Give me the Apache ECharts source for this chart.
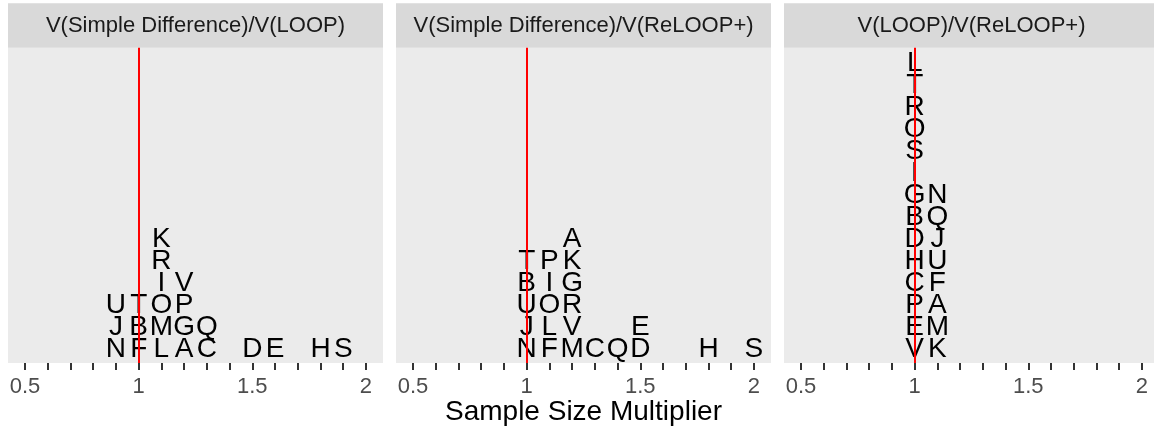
<!DOCTYPE html>
<html>
<head>
<meta charset="utf-8">
<script src="https://cdn.jsdelivr.net/npm/echarts@6/dist/echarts.min.js"></script>
<style>
  html, body { margin: 0; padding: 0; background: #fff; }
  #chart { width: 1154px; height: 432px; }
</style>
</head>
<body>
<div id="chart"></div>
<script>
// facet titles
const panelTitles = [
  "V(Simple Difference)/V(LOOP)",
  "V(Simple Difference)/V(ReLOOP+)",
  "V(LOOP)/V(ReLOOP+)",
];

// panel 1: V(Simple Difference)/V(LOOP)
const letters1 = ["N","F","L","A","C","D","E","H","S", "J","B","M","G","Q", "U","T","O","P", "I","V", "R", "K"];
const mult1 =    [0.9,1.0,1.1,1.2,1.3,1.5,1.6,1.8,1.9, 0.9,1.0,1.1,1.2,1.3, 0.9,1.0,1.1,1.2, 1.1,1.2, 1.1, 1.1];
const level1 =   [1,1,1,1,1,1,1,1,1, 2,2,2,2,2, 3,3,3,3, 4,4, 5, 6];

// panel 2: V(Simple Difference)/V(ReLOOP+)
const letters2 = ["N","F","M","C","Q","D","H","S", "J","L","V","E", "U","O","R", "B","I","G", "T","P","K", "A"];
const mult2 =    [1.0,1.1,1.2,1.3,1.4,1.5,1.8,2.0, 1.0,1.1,1.2,1.5, 1.0,1.1,1.2, 1.0,1.1,1.2, 1.0,1.1,1.2, 1.2];
const level2 =   [1,1,1,1,1,1,1,1, 2,2,2,2, 3,3,3, 4,4,4, 5,5,5, 6];

// panel 3: V(LOOP)/V(ReLOOP+)
const letters3 = ["V","E","P","C","H","D","B","G","I","S","O","R","T","L", "K","M","A","F","U","J","Q","N"];
const mult3 =    [1.0,1.0,1.0,1.0,1.0,1.0,1.0,1.0,1.0,1.0,1.0,1.0,1.0,1.0, 1.1,1.1,1.1,1.1,1.1,1.1,1.1,1.1];
const level3 =   [1,2,3,4,5,6,7,8,9,10,11,12,13,14, 1,2,3,4,5,6,7,8];

const xTicks = [0.5,0.6,0.7,0.8,0.9,1.0,1.1,1.2,1.3,1.4,1.5,1.6,1.7,1.8,1.9,2.0];
const xLabels = [0.5, 1, 1.5, 2];
const refLine = 1;

const FONT = "'Liberation Sans', Arial, Helvetica, sans-serif";
const panels = [
  { letters: letters1, mult: mult1, level: level1 },
  { letters: letters2, mult: mult2, level: level2 },
  { letters: letters3, mult: mult3, level: level3 },
];
const panelLeft = [8, 396, 784];
const panelWidth = 375;
const stripTop = 3.3;
const panelTop = 47.7;
const panelHeight = 315.3;

const chart = echarts.init(document.getElementById("chart"), null, { renderer: "canvas" });

const grids = panelLeft.map((left) => ({
  left: left,
  top: panelTop,
  width: panelWidth,
  height: panelHeight,
  show: true,
  backgroundColor: "#EBEBEB",
  borderWidth: 0,
  containLabel: false,
  outerBoundsMode: "none",
}));

const xAxes = panelLeft.map((_, i) => ({
  type: "value",
  gridIndex: i,
  min: 0.425,
  max: 2.075,
  splitLine: { show: false },
  axisLine: { show: false },
  axisTick: {
    show: true,
    length: 7,
    customValues: xTicks,
    lineStyle: { color: "#333333", width: 2 },
  },
  axisLabel: {
    show: true,
    customValues: xLabels,
    color: "#4D4D4D",
    fontSize: 22,
    fontFamily: FONT,
    margin: 13,
  },
  name: i === 1 ? "Sample Size Multiplier" : "",
  nameLocation: "middle",
  nameGap: 35,
  nameMoveOverlap: false,
  nameTextStyle: { color: "#000", fontSize: 28, fontFamily: FONT },
}));

const yAxes = panelLeft.map((_, i) => ({
  type: "value",
  gridIndex: i,
  min: 0.35,
  max: 14.65,
  show: false,
  splitLine: { show: false },
}));

const series = panels.map((p, i) => ({
  type: "custom",
  xAxisIndex: i,
  yAxisIndex: i,
  data: p.mult.map((m, j) => [m, p.level[j]]),
  renderItem: (params, api) => {
    const pt = api.coord([api.value(0), api.value(1)]);
    return {
      type: "text",
      x: pt[0],
      y: pt[1] + 1,
      style: {
        text: p.letters[params.dataIndex],
        fill: "#000",
        font: "28px " + FONT,
        align: "center",
        verticalAlign: "middle",
      },
    };
  },
  markLine: {
    silent: true,
    symbol: "none",
    animation: false,
    label: { show: false },
    lineStyle: { color: "#FF0000", width: 2, type: "solid" },
    data: [{ xAxis: refLine }],
  },
}));

const strips = panelTitles.map((t, i) => ({
  type: "group",
  left: panelLeft[i],
  top: stripTop,
  children: [
    {
      type: "rect",
      shape: { x: 0, y: 0, width: panelWidth, height: panelTop - stripTop },
      style: { fill: "#D9D9D9" },
    },
    {
      type: "text",
      x: panelWidth / 2,
      y: (panelTop - stripTop) / 2,
      style: {
        text: t,
        fill: "#1A1A1A",
        font: "22px " + FONT,
        align: "center",
        verticalAlign: "middle",
      },
    },
  ],
}));

chart.setOption({
  animation: false,
  backgroundColor: "#FFFFFF",
  grid: grids,
  xAxis: xAxes,
  yAxis: yAxes,
  series: series,
  graphic: strips,
});
</script>
</body>
</html>
